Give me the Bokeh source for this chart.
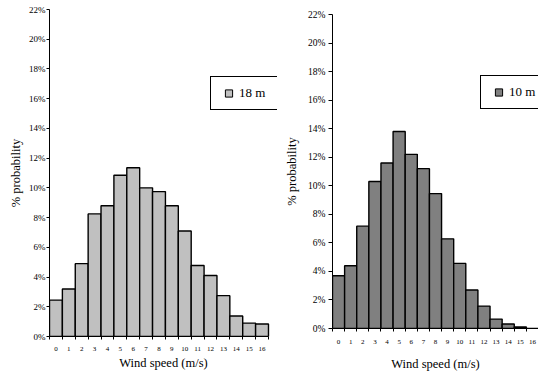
from bokeh.plotting import figure
from bokeh.layouts import row, column
from bokeh.models import (FixedTicker, PrintfTickFormatter, Legend, LegendItem,
                          ColumnDataSource, Range1d)
from bokeh.embed import file_html
from bokeh.resources import INLINE

# ---- data ----
speeds = list(range(17))
prob_18m = [2.45, 3.2, 4.9, 8.25, 8.8, 10.85, 11.35, 10.0, 9.75, 8.8, 7.1, 4.78, 4.1, 2.75, 1.38, 0.9, 0.84]
prob_10m = [3.7, 4.4, 7.17, 10.3, 11.6, 13.8, 12.2, 11.2, 9.45, 6.28, 4.56, 2.7, 1.57, 0.66, 0.32, 0.1, 0.0]
y_ticks = list(range(0, 23, 2))
series_18 = "18 m"
series_10 = "10 m"

SERIF = "Liberation Serif"


def make_panel(vals, color, label, width, borders, x_end, legend_loc, tick_font,
               ytick_out, ytick_standoff, ylab_standoff, xtick_standoff, xlab_standoff):
    bl, br, bt, bb = borders
    p = figure(width=width, height=373, output_backend="svg", toolbar_location=None, title=None,
               min_border_left=bl, min_border_right=br, min_border_top=bt, min_border_bottom=bb,
               x_range=Range1d(-0.5, x_end), y_range=Range1d(0, 22))
    p.outline_line_color = None
    p.grid.visible = False
    p.background_fill_color = "white"
    p.border_fill_color = "white"

    src = ColumnDataSource(dict(x=speeds, top=vals))
    p.vbar(x="x", top="top", bottom=0, width=1.0, source=src,
           fill_color=color, line_color="black", line_width=1.4)

    # x axis
    xa = p.xaxis[0]
    xa.bounds = (-0.5, 16.5)
    xa.ticker = FixedTicker(ticks=speeds, minor_ticks=[s - 0.5 for s in speeds] + [16.5])
    xa.major_tick_out = 0
    xa.major_tick_in = 0
    xa.minor_tick_out = 3
    xa.minor_tick_in = 0
    xa.major_label_standoff = xtick_standoff
    xa.major_label_text_font = SERIF
    xa.major_label_text_font_size = "7px"
    xa.major_label_text_color = "black"
    xa.axis_label = "Wind speed (m/s)"
    xa.axis_label_text_font = SERIF
    xa.axis_label_text_font_size = "12.5px"
    xa.axis_label_text_font_style = "normal"
    xa.axis_label_text_color = "black"
    xa.axis_label_standoff = xlab_standoff
    xa.axis_line_color = "black"
    xa.minor_tick_line_color = "black"

    # y axis
    ya = p.yaxis[0]
    ya.ticker = FixedTicker(ticks=y_ticks, minor_ticks=[])
    ya.formatter = PrintfTickFormatter(format="%d%%")
    ya.major_tick_out = ytick_out
    ya.major_tick_in = 0
    ya.minor_tick_out = 0
    ya.minor_tick_in = 0
    ya.major_label_standoff = ytick_standoff
    ya.major_label_text_font = SERIF
    ya.major_label_text_font_size = tick_font
    ya.major_label_text_color = "black"
    ya.axis_label = "% probability"
    ya.axis_label_text_font = SERIF
    ya.axis_label_text_font_size = "12.5px"
    ya.axis_label_text_font_style = "normal"
    ya.axis_label_text_color = "black"
    ya.axis_label_standoff = ylab_standoff
    ya.axis_line_color = "black"
    ya.major_tick_line_color = "black"

    # legend glyph: zero-size square markers on the same data (only the legend shows them)
    marker_r = p.scatter(x="x", y="top", source=src, size=0,
                         marker="square", fill_color=color, line_color="black", line_width=1)
    leg = Legend(items=[LegendItem(label=label, renderers=[marker_r])], location=legend_loc,
                 padding=7, glyph_width=21, glyph_height=18, label_standoff=0,
                 label_width=31, label_height=15,
                 label_text_font=SERIF, label_text_font_size="13px", label_text_color="black",
                 border_line_color="black", border_line_width=1, border_line_alpha=1,
                 background_fill_color="white", background_fill_alpha=1)
    p.add_layout(leg, "center")
    return p


left = make_panel(prob_18m, "#c0c0c0", series_18, 278, (49, 1, 9, 37), 17.2, (161, 226), "9px",
                  3, 1, 3, 7, 2)
right = make_panel(prob_10m, "#808080", series_10, 260, (54, 0, 14, 45), 16.5, (148, 219), "9.5px",
                   4, 3, 6, 8, 10)

layout = row(column(left), column(right), spacing=0)
open("out.html", "w").write(file_html(layout, INLINE))
